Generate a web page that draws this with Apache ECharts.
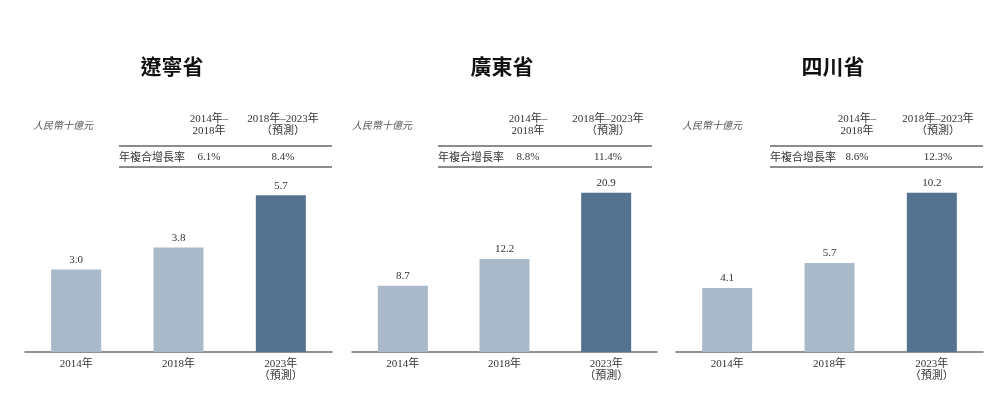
<!DOCTYPE html>
<html>
<head>
<meta charset="utf-8">
<script src="https://cdn.jsdelivr.net/npm/echarts@6/dist/echarts.min.js"></script>
<style>
html,body{margin:0;padding:0;background:#fff;}
#chart{width:1000px;height:403px;}
</style>
</head>
<body>
<div id="chart"></div>
<script>
// ---- data ----
const provinces = ['遼寧省', '廣東省', '四川省'];
const categories = ['2014年', '2018年', '2023年\n（預測）'];
const liaoningValues = [3.0, 3.8, 5.7];
const guangdongValues = [8.7, 12.2, 20.9];
const sichuanValues = [4.1, 5.7, 10.2];
const unitLabel = '人民幣十億元';
const cagrRowLabel = '年複合增長率';
const cagrHeaders = ['2014年–\n2018年', '2018年–2023年\n（預測）'];
const liaoningCagr = ['6.1%', '8.4%'];
const guangdongCagr = ['8.8%', '11.4%'];
const sichuanCagr = ['8.6%', '12.3%'];

// ---- layout / style ----
const seriesValues = [liaoningValues, guangdongValues, sichuanValues];
const cagrValues = [liaoningCagr, guangdongCagr, sichuanCagr];
const yMax = [5.82, 21.0, 10.25];
const grids = [
  {left: 25, width: 307},
  {left: 352, width: 305},
  {left: 676, width: 307}
];
const titleX = [172, 502, 833];
const unitX = [33, 352, 682];
const tableLine = [[119, 332], [438, 652], [770, 983]];
const colX = [[209, 283], [528, 608], [857, 938]];
const light = '#a9b9ca';
const dark = '#55728f';
const serif = '"Liberation Serif", "Noto Sans CJK TC", serif';
const cjk = '"Noto Sans CJK TC", "Liberation Serif", serif';

const option = {
  backgroundColor: '#fff',
  animation: false,
  grid: grids.map(g => ({left: g.left, width: g.width, top: 192, height: 160})),
  xAxis: grids.map((g, i) => ({
    type: 'category',
    gridIndex: i,
    data: categories,
    axisLine: {lineStyle: {color: '#6e6e6e', width: 1.5}},
    axisTick: {show: false},
    axisLabel: {fontSize: 11, color: '#333', fontFamily: serif, margin: 6, lineHeight: 12}
  })),
  yAxis: grids.map((g, i) => ({
    type: 'value',
    gridIndex: i,
    min: 0,
    max: yMax[i],
    show: false,
    splitLine: {show: false}
  })),
  series: seriesValues.map((vals, i) => ({
    type: 'bar',
    xAxisIndex: i,
    yAxisIndex: i,
    barWidth: 50,
    data: vals.map((v, j) => ({value: v, itemStyle: {color: j === 2 ? dark : light}})),
    label: {
      show: true,
      position: 'top',
      distance: 4,
      fontSize: 11,
      color: '#333',
      fontFamily: serif,
      formatter: p => p.value.toFixed(1)
    }
  })),
  graphic: []
};

provinces.forEach((name, i) => {
  option.graphic.push({
    type: 'text', x: titleX[i], y: 66,
    style: {text: name, font: 'bold 21px ' + cjk, fill: '#111', align: 'center', verticalAlign: 'middle'}
  });
  option.graphic.push({
    type: 'text', x: unitX[i], y: 125,
    style: {text: unitLabel, font: 'italic 10px ' + cjk, fill: '#555', align: 'left', verticalAlign: 'middle'}
  });
  cagrHeaders.forEach((h, k) => {
    option.graphic.push({
      type: 'text', x: colX[i][k], y: 125,
      style: {text: h, font: '11px ' + serif, lineHeight: 12, fill: '#333', align: 'center', verticalAlign: 'middle'}
    });
    option.graphic.push({
      type: 'text', x: colX[i][k], y: 157,
      style: {text: cagrValues[i][k], font: '11px ' + serif, fill: '#333', align: 'center', verticalAlign: 'middle'}
    });
  });
  option.graphic.push({
    type: 'text', x: tableLine[i][0], y: 157,
    style: {text: cagrRowLabel, font: '11px ' + cjk, fill: '#333', align: 'left', verticalAlign: 'middle'}
  });
  [146, 167].forEach(yy => {
    option.graphic.push({
      type: 'line',
      shape: {x1: tableLine[i][0], y1: yy, x2: tableLine[i][1], y2: yy},
      style: {stroke: '#666', lineWidth: 1.5}
    });
  });
});

const chart = echarts.init(document.getElementById('chart'), null, {renderer: 'canvas'});
chart.setOption(option);
</script>
</body>
</html>
